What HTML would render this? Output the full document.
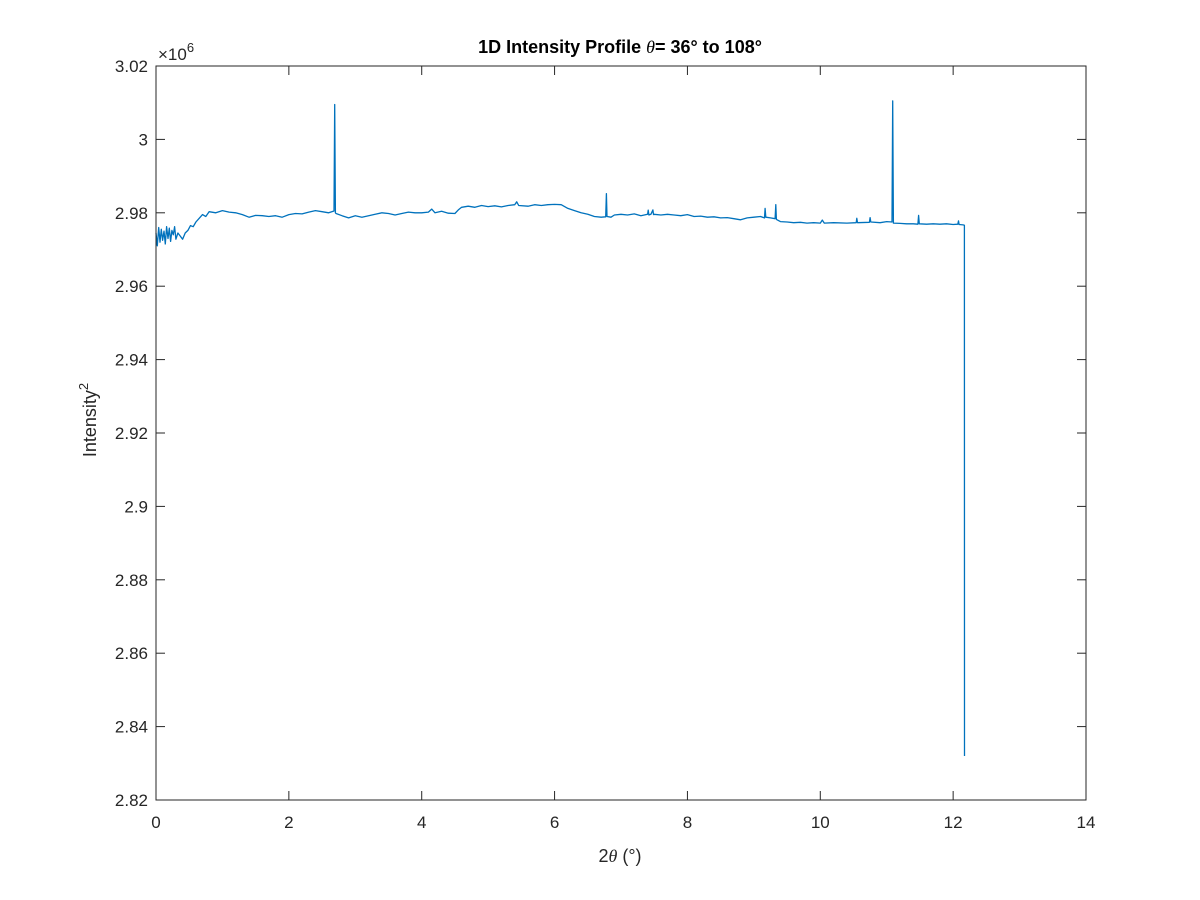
<!DOCTYPE html>
<html><head><meta charset="utf-8"><style>
body{margin:0;background:#fff;}
svg{display:block;font-family:"Liberation Sans",Arial,sans-serif;}
</style></head><body>
<svg id="chart" width="1200" height="900">
<rect width="1200" height="900" fill="#fff"/>
</svg>
<script>
const xTicks=[0,2,4,6,8,10,12,14];
const yTicks=[2.82,2.84,2.86,2.88,2.9,2.92,2.94,2.96,2.98,3,3.02];
const yTickLabels=["2.82","2.84","2.86","2.88","2.9","2.92","2.94","2.96","2.98","3","3.02"];
const twoTheta=[0,0.02,0.04,0.06,0.08,0.1,0.12,0.14,0.16,0.18,0.2,0.22,0.24,0.26,0.28,0.3,0.33,0.36,0.4,0.44,0.48,0.52,0.56,0.6,0.65,0.7,0.75,0.8,0.9,1.0,1.1,1.2,1.3,1.4,1.5,1.6,1.7,1.8,1.9,2.0,2.1,2.2,2.3,2.4,2.5,2.6,2.68,2.69,2.70,2.71,2.8,2.9,3.0,3.1,3.2,3.3,3.4,3.5,3.6,3.7,3.8,3.9,4.0,4.1,4.15,4.2,4.3,4.4,4.5,4.55,4.6,4.7,4.8,4.9,5.0,5.1,5.2,5.3,5.4,5.43,5.46,5.6,5.7,5.8,5.9,6.0,6.1,6.2,6.3,6.4,6.5,6.6,6.7,6.77,6.78,6.79,6.85,6.9,7.0,7.1,7.2,7.3,7.4,7.41,7.42,7.45,7.48,7.49,7.5,7.6,7.7,7.8,7.9,8.0,8.1,8.2,8.3,8.4,8.5,8.6,8.7,8.8,8.9,9.0,9.1,9.16,9.17,9.18,9.25,9.32,9.33,9.34,9.4,9.5,9.6,9.7,9.8,9.9,10.0,10.03,10.06,10.2,10.4,10.54,10.55,10.56,10.74,10.75,10.76,10.9,11.0,11.08,11.09,11.10,11.2,11.3,11.4,11.47,11.48,11.49,11.6,11.7,11.8,11.9,12.0,12.07,12.08,12.09,12.15,12.17,12.171];
const intensity=[2.9745,2.971,2.976,2.972,2.9755,2.9725,2.975,2.9715,2.9762,2.973,2.9758,2.9722,2.9752,2.974,2.9762,2.9728,2.9745,2.9738,2.9728,2.9745,2.9752,2.9765,2.9762,2.9775,2.9785,2.9795,2.9790,2.9803,2.9800,2.9806,2.9802,2.9800,2.9795,2.9788,2.9793,2.9792,2.9790,2.9792,2.9788,2.9795,2.9798,2.9797,2.9802,2.9806,2.9803,2.9800,2.9805,3.0095,2.9800,2.9798,2.9792,2.9786,2.9792,2.9788,2.9792,2.9796,2.9800,2.9798,2.9794,2.9798,2.9802,2.9800,2.9800,2.9802,2.9810,2.9800,2.9804,2.9799,2.9798,2.9808,2.9815,2.9818,2.9815,2.9820,2.9817,2.9819,2.9816,2.9820,2.9822,2.9830,2.9820,2.9818,2.9822,2.9820,2.9822,2.9823,2.9822,2.9812,2.9806,2.9800,2.9796,2.9790,2.9788,2.9789,2.9852,2.9790,2.9788,2.9794,2.9796,2.9794,2.9797,2.9792,2.9796,2.9807,2.9794,2.9796,2.9808,2.9795,2.9796,2.9794,2.9796,2.9794,2.9792,2.9795,2.9790,2.9791,2.9788,2.9789,2.9786,2.9787,2.9784,2.9781,2.9786,2.9788,2.9790,2.9786,2.9812,2.9788,2.9786,2.9784,2.9822,2.9782,2.9776,2.9775,2.9773,2.9774,2.9772,2.9773,2.9772,2.9780,2.9772,2.9773,2.9772,2.9773,2.9785,2.9773,2.9774,2.9787,2.9775,2.9773,2.9776,2.9775,3.0105,2.9772,2.9771,2.9770,2.9770,2.9769,2.9793,2.9770,2.9769,2.9770,2.9769,2.9770,2.9768,2.9769,2.9778,2.9768,2.9767,2.9766,2.8320];
const NS="http://www.w3.org/2000/svg";
const svg=document.getElementById('chart');
const L=156,R=1086,T=66,B=800;
const xs=v=>L+(v-0)/(14-0)*(R-L);
const ys=v=>B-(v-2.82)/(3.02-2.82)*(B-T);
function mk(tag,attrs){const e=document.createElementNS(NS,tag);for(const k in attrs)e.setAttribute(k,attrs[k]);svg.appendChild(e);return e;}
const pts=twoTheta.map((x,i)=>xs(x).toFixed(1)+','+ys(intensity[i]).toFixed(1)).join(' ');
const line=mk('polyline',{points:pts,fill:'none',stroke:'#0072BD','stroke-width':1.3,'stroke-linejoin':'round'});


const box=mk('rect',{x:L,y:T,width:R-L,height:B-T,fill:'none',stroke:'#262626','stroke-width':1});


xTicks.forEach(t=>{const x=xs(t);
 mk('line',{x1:x,y1:B,x2:x,y2:B-9,stroke:'#262626'});mk('line',{x1:x,y1:T,x2:x,y2:T+9,stroke:'#262626'});
 const tx=mk('text',{x:x,y:B+28,'text-anchor':'middle','font-size':17,fill:'#262626'});tx.textContent=t;
 
 });
yTicks.forEach((t,i)=>{const y=ys(t);
 mk('line',{x1:L,y1:y,x2:L+9,y2:y,stroke:'#262626'});mk('line',{x1:R,y1:y,x2:R-9,y2:y,stroke:'#262626'});
 const tx=mk('text',{x:L-8,y:y+6,'text-anchor':'end','font-size':17,fill:'#262626'});tx.textContent=yTickLabels[i];
 
 });
</script>
<svg width="1200" height="900" style="position:absolute;left:0;top:0">
<text x="158" y="60" font-family="Liberation Sans,sans-serif" font-size="17" fill="#262626">×10<tspan dy="-8" font-size="13">6</tspan></text>
<text x="620" y="53" text-anchor="middle" font-family="Liberation Sans,sans-serif" font-size="18" font-weight="bold" fill="#000">1D Intensity Profile <tspan font-family="Liberation Serif,serif" font-style="italic" font-weight="normal">θ</tspan>= 36° to 108°</text>
<text x="620" y="862" text-anchor="middle" font-family="Liberation Sans,sans-serif" font-size="18" fill="#262626">2<tspan font-family="Liberation Serif,serif" font-style="italic">θ</tspan> (°)</text>
<text transform="translate(96,420) rotate(-90)" text-anchor="middle" font-family="Liberation Sans,sans-serif" font-size="18" fill="#262626">Intensity<tspan dy="-8" font-size="13">2</tspan></text>
</svg>
</body></html>
